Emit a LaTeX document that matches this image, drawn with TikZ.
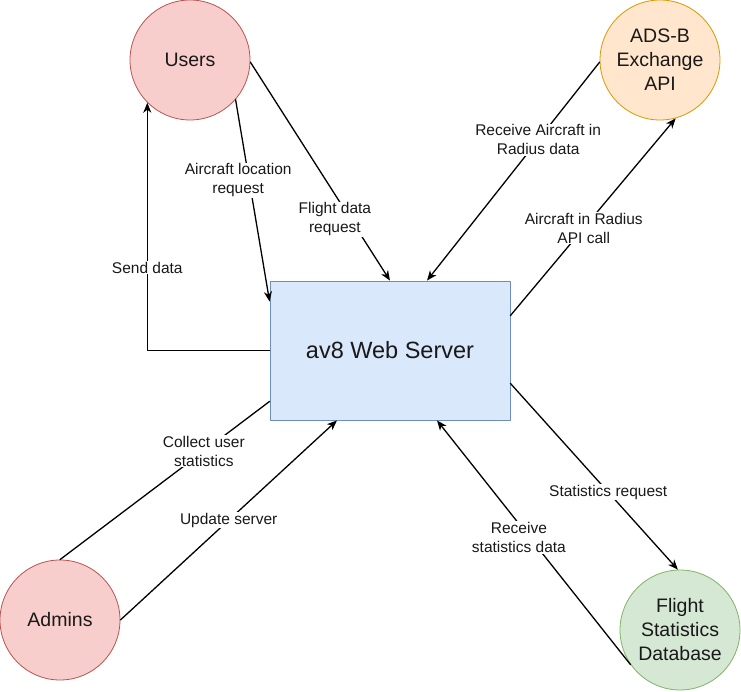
\documentclass[tikz,border=0pt]{standalone}
\usepackage{fontspec}
\setmainfont{Liberation Sans}
\usetikzlibrary{arrows.meta}
\definecolor{ffcecc}{rgb}{0.973,0.808,0.8}
\definecolor{bb5450}{rgb}{0.722,0.329,0.314}
\definecolor{ffe6cc}{rgb}{1,0.902,0.8}
\definecolor{dd9b00}{rgb}{0.843,0.608,0}
\definecolor{dde8fc}{rgb}{0.855,0.91,0.988}
\definecolor{6c8ebf}{rgb}{0.424,0.557,0.749}
\definecolor{d5e8d4}{rgb}{0.835,0.91,0.831}
\definecolor{82b366}{rgb}{0.51,0.702,0.4}
\definecolor{txtgray}{rgb}{0.1,0.1,0.1}
\begin{document}
\begin{tikzpicture}[line cap=round,line join=round,>={Stealth[length=10pt,width=8pt,inset=3pt]},x=1pt,y=1pt,
  actor/.style={circle,draw,line width=0.8pt,minimum size=120pt,inner sep=0pt,align=center,text=txtgray,font=\fontsize{19.5}{24}\selectfont},
  lbl/.style={fill=white,inner sep=1pt,align=center,text=txtgray,font=\fontsize{15.5}{19}\selectfont},
  conn/.style={line width=1.3pt,color=black}]
\useasboundingbox (0,0) rectangle (741,691);
% nodes
\node[actor,fill=ffcecc,draw=bb5450] (users) at (190,631) {Users};
\node[actor,fill=ffe6cc,draw=dd9b00] (adsb) at (660,631) {ADS-B\\Exchange\\API};
\node[actor,fill=ffcecc,draw=bb5450] (admins) at (60,71) {Admins};
\node[actor,fill=d5e8d4,draw=82b366] (db) at (680,61) {Flight\\Statistics\\Database};
\node[draw=6c8ebf,fill=dde8fc,line width=0.8pt,minimum width=240pt,minimum height=139pt,inner sep=0pt,text=txtgray,font=\fontsize{23.5}{28}\selectfont] (server) at (390,340.5) {av8 Web Server};
% connectors
\draw[conn,->] (users.-41) -- ([yshift=-21pt]server.north west) node[lbl,pos=0.4,xshift=-11pt] {Aircraft location\\request};
\draw[conn,->] (users.-2) -- (server.north) node[lbl,pos=0.72,xshift=-16pt] {Flight data\\request};
\draw[conn,->] (server.west) -| (users.-135) node[lbl,pos=0.667] {Send data};
\draw[conn,->] (adsb.182) -- ([xshift=37pt]server.north) node[lbl,pos=0.356] {Receive Aircraft in\\Radius data};
\draw[conn,->] ([yshift=-35pt]server.north east) -- (adsb.-75) node[lbl,pos=0.444] {Aircraft in Radius\\API call};
\draw[conn] ([yshift=19pt]server.south west) -- (admins.north) node[lbl,pos=0.314] {Collect user\\statistics};
\draw[conn,->] (admins.east) -- ([xshift=-53pt]server.south) node[lbl,pos=0.5] {Update server};
\draw[conn,->] ([yshift=37pt]server.south east) -- (db.92) node[lbl,pos=0.584] {Statistics request};
\draw[conn,->] (db.215) -- ([xshift=47pt]server.south) node[lbl,pos=0.52,xshift=-11pt] {Receive\\statistics data};
\end{tikzpicture}
\end{document}
